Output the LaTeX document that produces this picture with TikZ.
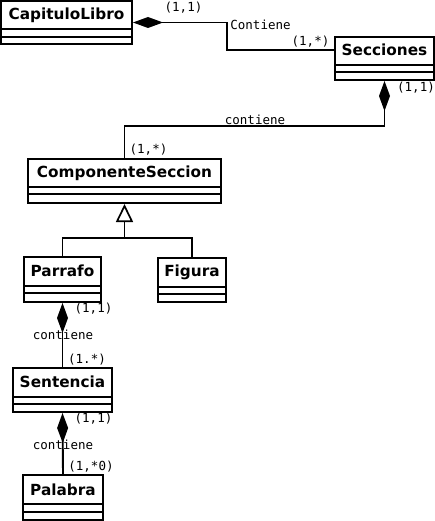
\documentclass[tikz,border=0pt]{standalone}
\usepackage{fontspec}
\setmainfont{DejaVu Sans}
\newfontfamily\lblfont{DejaVu Sans Mono}
\usetikzlibrary{arrows.meta}
\tikzset{
  clsbox/.style={draw, line width=2pt, inner sep=0pt, rectangle},
  clstitle/.style={inner sep=0pt, font=\fontsize{15.3}{18}\selectfont\bfseries},
  sepline/.style={line width=2pt},
  conn/.style={line width=1.9pt},
  comp/.style={conn, -{Diamond[length=30pt,width=11pt]}},
  gen/.style={conn, -{Triangle[open,length=18pt,width=17pt,line width=1.7pt]}},
  lbl/.style={inner sep=0pt, font=\lblfont\fontsize{12.5}{14}\selectfont}
}
\newcommand{\umlclass}[9]{%
  % #1 name, #2 x1, #3 y1, #4 x2, #5 y2, #6 sep1, #7 sep2, #8 text, #9 title y
  \node[clsbox, minimum width={(#4-#2)*1pt}, minimum height={(#5-#3)*1pt}] (#1) at ({(#2+#4)/2},{(#3+#5)/2}) {};
  \node[clstitle] (#1-t) at ({(#2+#4)/2},#9) {#8};
  \draw[sepline] (#2,#6) -- (#4,#6) (#2,#7) -- (#4,#7);
}
\begin{document}
\begin{tikzpicture}[x=1pt,y=-1pt]
\useasboundingbox (0,0) rectangle (435,521);
\umlclass{cap}{1}{1}{132}{44}{29}{37}{CapituloLibro}{15}
\umlclass{sec}{335}{37}{434}{80}{65}{72}{Secciones}{50}
\umlclass{cmp}{28}{159}{221}{203}{187}{194}{ComponenteSeccion}{173}
\umlclass{par}{24}{257}{101}{302}{286}{293}{Parrafo}{271}
\umlclass{fig}{158}{258}{226}{302}{287}{294}{Figura}{272}
\umlclass{sen}{13}{368}{112}{412}{397}{404}{Sentencia}{382}
\umlclass{pal}{23}{475}{103}{520}{504}{512}{Palabra}{490}
% CapituloLibro - Secciones
\coordinate (c1) at (227,50);
\draw[comp] (sec.west |- c1) -- (c1) |- (cap.east);
\node[lbl] (l1) at (183.5,8) {(1,1)};
\node[lbl] (l2) at (260.5,25) {Contiene};
\node[lbl] (l3) at (310.5,42) {(1,*)};
% Secciones - ComponenteSeccion
\coordinate (c2) at (124.5,126);
\draw[comp] (cmp.north) -- (c2) -| (sec.south);
\node[lbl] (l4) at (416,87.5) {(1,1)};
\node[lbl] (l5) at (255,120) {contiene};
\node[lbl] (l6) at (148.5,149.5) {(1,*)};
% generalization
\coordinate (gj) at (124.5,238);
\draw[conn] (par.north) |- (gj) -| (fig.north);
\draw[gen] (gj) -- (cmp.south);
% Parrafo - Sentencia
\draw[comp] (sen.north) -- (par.south);
\node[lbl] (l7) at (93.5,309) {(1,1)};
\node[lbl] (l8) at (63,335) {contiene};
\node[lbl] (l9) at (87,360) {(1.*)};
% Sentencia - Palabra
\draw[comp] (pal.north) -- (sen.south);
\node[lbl] (l10) at (93.5,419) {(1,1)};
\node[lbl] (l11) at (63,445) {contiene};
\node[lbl] (l12) at (91,467) {(1,*0)};
\end{tikzpicture}
\end{document}
